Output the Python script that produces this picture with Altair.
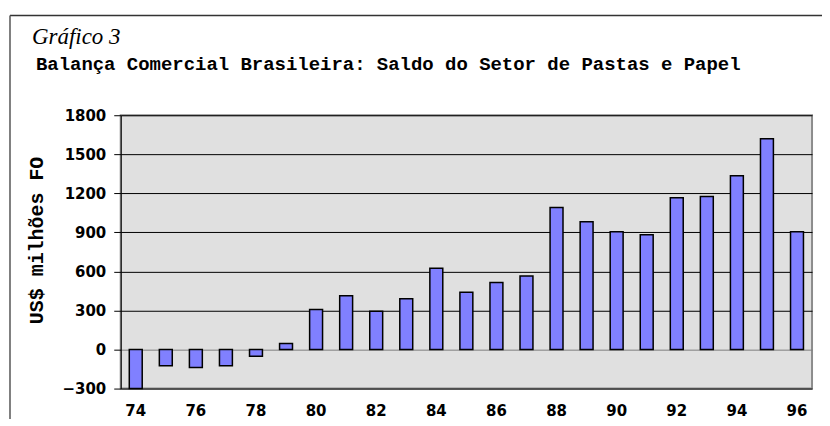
import altair as alt
import pandas as pd

years = [str(y) for y in range(74, 97)]
saldo = [-300, -125, -138, -125, -51, 46, 307, 414, 294, 391, 624, 440, 514, 565,
         1092, 982, 905, 882, 1166, 1176, 1335, 1619, 905]
y_ticks = [-300, 0, 300, 600, 900, 1200, 1500, 1800]
x_labels = [str(y) for y in range(74, 97, 2)]

df = pd.DataFrame({"ano": years, "saldo": saldo})

W, H = 693, 274

base = alt.Chart(df)

bars = base.mark_bar(fill="#8080ff", stroke="#000000", strokeWidth=1.5).encode(
    x=alt.X("ano:O", sort=years,
            scale=alt.Scale(paddingInner=0.57, paddingOuter=0.285),
            axis=alt.Axis(title=None, labelAngle=0, values=x_labels, ticks=False,
                          domain=False, labelFont="DejaVu Sans", labelFontWeight="bold",
                          labelFontSize=15, labelColor="#000", labelPadding=15)),
    y=alt.Y("saldo:Q",
            scale=alt.Scale(domain=[-300, 1800], nice=False, zero=False),
            axis=alt.Axis(values=y_ticks, format="d", title="US$ milhões FO",
                          titleFont="Liberation Mono", titleFontWeight="bold",
                          titleFontSize=20, titleColor="#000", titleAngle=-90,
                          titleAlign="center", titleBaseline="alphabetic",
                          titleX=-78, titleY=125,
                          labelFont="DejaVu Sans", labelFontWeight="bold",
                          labelFontSize=15, labelColor="#000", labelPadding=8,
                          tickSize=7, tickColor="#000", domainColor="#000",
                          grid=True,
                          gridColor={"condition": {"test": "datum.value === 0", "value": "#808080"},
                                     "value": "#000000"},
                          gridWidth=1)),
)

one = alt.Data(values=[{"k": 1}])

frame_top = alt.Chart(one).mark_rule(color="#333333", strokeWidth=1.5).encode(
    x=alt.value(-111), x2=alt.value(730), y=alt.value(-100))
frame_left = alt.Chart(one).mark_rule(color="#555555", strokeWidth=1.5).encode(
    x=alt.value(-111), y=alt.value(-100), y2=alt.value(H + 60))

t1 = alt.Chart(one).mark_text(text="Gráfico 3", font="Liberation Serif", fontStyle="italic",
                              fontSize=23, align="left", baseline="alphabetic",
                              color="#000").encode(x=alt.value(-89), y=alt.value(-71))
t2 = alt.Chart(one).mark_text(text="Balança Comercial Brasileira: Saldo do Setor de Pastas e Papel",
                              font="Liberation Mono", fontWeight="bold", fontSize=19,
                              align="left", baseline="alphabetic",
                              color="#000").encode(x=alt.value(-85), y=alt.value(-45))

chart = alt.layer(bars, frame_top, frame_left, t1, t2).properties(
    width=W, height=H,
    autosize=alt.AutoSizeParams(type="none"),
    padding={"left": 113, "top": 107, "right": 10, "bottom": 30},
).configure_view(fill="#e0e0e0", stroke="#8c8c8c", strokeWidth=2)

chart.save("out.html", embed_options={"renderer": "svg", "actions": False})
